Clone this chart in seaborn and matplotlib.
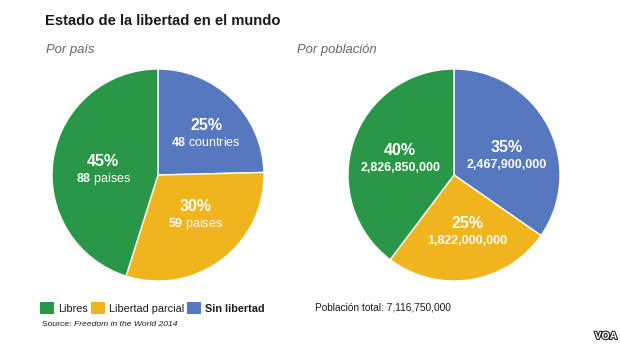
import numpy as np
import matplotlib
matplotlib.use("Agg")
import matplotlib.pyplot as plt
import matplotlib.patheffects as pe
from matplotlib.patches import Patch
import seaborn as sns

# ---- data ----
categories = ["Sin libertad", "Libertad parcial", "Libres"]
countries = [48, 59, 88]
country_pct = ["25%", "30%", "45%"]
country_words = ["countries", "paises", "paises"]
population = [2467900000, 1822000000, 2826850000]
population_pct = ["35%", "25%", "40%"]
legend_order = ["Libres", "Libertad parcial", "Sin libertad"]
colors = {"Libres": "#2a9648", "Libertad parcial": "#f0b41c", "Sin libertad": "#5678be"}

sns.set_theme(style="white")
plt.rcParams["font.family"] = ["Liberation Sans", "DejaVu Sans"]
plt.rcParams["mathtext.fontset"] = "custom"
plt.rcParams["mathtext.bf"] = "Liberation Sans:bold"
plt.rcParams["mathtext.rm"] = "Liberation Sans"

W, H = 620, 349
fig = plt.figure(figsize=(W / 100, H / 100), dpi=100)
fig.patch.set_facecolor("white")

def px_axes(cx, cy, r):
    return fig.add_axes([(cx - r) / W, 1 - (cy + r) / H, 2 * r / W, 2 * r / H])

pal = sns.color_palette([colors[c] for c in categories])

def draw_pie(ax, values, pcts, sublabels, rdist, sub_weight):
    wedges, _ = ax.pie(values, colors=pal, startangle=90, counterclock=False,
                       wedgeprops=dict(edgecolor="white", linewidth=1.0))
    ax.set_xlim(-1, 1)
    ax.set_ylim(-1, 1)
    ax.set_aspect("equal")
    ax.axis("off")
    for w, p, s, rd in zip(wedges, pcts, sublabels, rdist):
        mid = np.deg2rad((w.theta1 + w.theta2) / 2)
        x, y = rd[0] * np.cos(mid + rd[1]), rd[0] * np.sin(mid + rd[1])
        ax.text(x, y + 0.08, p, color="white", fontsize=11.5, fontweight="bold",
                ha="center", va="center")
        ax.text(x, y - 0.085, s, color="white", fontsize=9,
                ha="center", va="center", fontweight=sub_weight)

ax1 = px_axes(158, 175, 106)
subs1 = [r"$\bf{%d}$ %s" % (n, w) for n, w in zip(countries, country_words)]
draw_pie(ax1, countries, country_pct, subs1,
         [(0.6, np.deg2rad(-5)), (0.52, np.deg2rad(6)), (0.52, np.deg2rad(4))], "normal")

ax2 = px_axes(454, 175, 106)
subs2 = ["{:,}".format(v) for v in population]
draw_pie(ax2, population, population_pct, subs2,
         [(0.53, np.deg2rad(-8)), (0.55, np.deg2rad(4)), (0.53, np.deg2rad(2))], "bold")

# ---- texts ----
fig.text(45 / W, 1 - 21 / H, "Estado de la libertad en el mundo", fontsize=10.6,
         fontweight="bold", color="#1a1a1a", ha="left", va="center")
fig.text(46 / W, 1 - 50 / H, "Por país", fontsize=9.4, style="italic",
         color="#666666", ha="left", va="center")
fig.text(297 / W, 1 - 50 / H, "Por población", fontsize=9.4, style="italic",
         color="#666666", ha="left", va="center")

handles = [Patch(facecolor=colors[c], edgecolor="none") for c in legend_order]
leg = fig.legend(handles, legend_order, loc="center left",
                 bbox_to_anchor=(40 / W, 1 - 308 / H), ncol=3, frameon=False,
                 prop={"size": 7.8},
                 handlelength=1.3, handleheight=1.3,
                 handletextpad=0.35, columnspacing=0.3, borderpad=0, borderaxespad=0)
for t, c in zip(leg.get_texts(), legend_order):
    t.set_color("#1a1a1a")
    if c == "Sin libertad":
        t.set_fontweight("bold")

fig.text(315 / W, 1 - 307 / H, "Población total: {:,}".format(sum(population)),
         fontsize=7.3, color="#1a1a1a", ha="left", va="center")
src = fig.text(42 / W, 1 - 325 / H, "Source: ", fontsize=6.1, color="#1a1a1a",
               ha="left", va="center")
fig.canvas.draw()
bb = src.get_window_extent()
fig.text(bb.x1 / W, 1 - 325 / H, "Freedom in the World 2014", fontsize=6.1,
         style="italic", color="#1a1a1a", ha="left", va="center")
fig.text(617 / W, 1 - 336 / H, "VOA", fontsize=7.5, fontweight="bold",
         color="white", ha="right", va="center",
         path_effects=[pe.withStroke(linewidth=1.6, foreground="#222222")])

fig.savefig("out.png", dpi=100, facecolor="white")
